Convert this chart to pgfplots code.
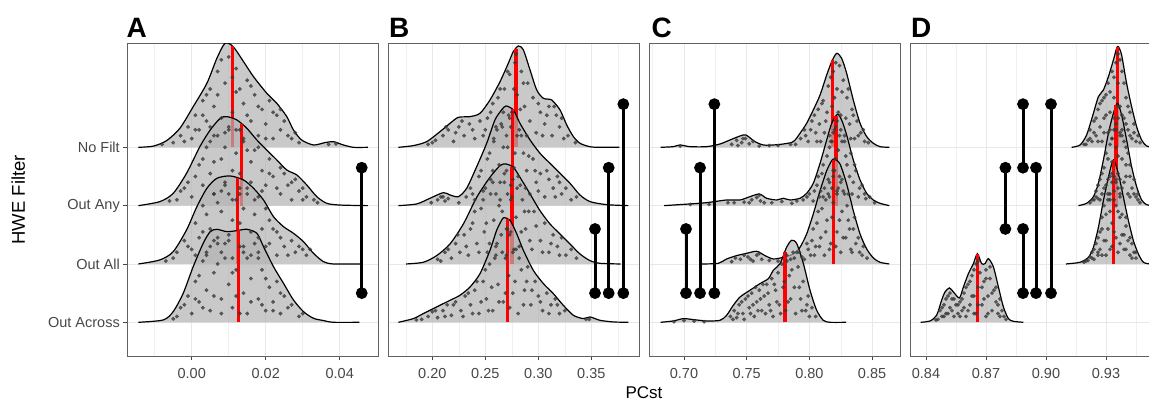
\documentclass[border=0pt]{standalone}
\usepackage{fontspec}
\setmainfont{Liberation Sans}
\usepackage{pgfplots}
\pgfplotsset{compat=1.18}
\usepackage{pgfplotstable}

% ---------- densities (x, height above baseline) ----------
\pgfplotstableread[row sep=\\]{x h\\ -0.0144 0\\ -0.0104 0.02\\ -0.0068 0.114\\ -0.0032 0.326\\ 0.0004 0.697\\ 0.0041 1.097\\ 0.0068 1.526\\ 0.0090 1.783\\ 0.0112 1.726\\ 0.0140 1.469\\ 0.0167 1.211\\ 0.0203 0.926\\ 0.0230 0.754\\ 0.0257 0.526\\ 0.0275 0.297\\ 0.0297 0.126\\ 0.0329 0.04\\ 0.0360 0.08\\ 0.0383 0.097\\ 0.0410 0.04\\ 0.0437 0\\ 0.0476 0\\}\dANF
\pgfplotstableread[row sep=\\]{x h\\ -0.0144 0\\ -0.0086 0.069\\ -0.0050 0.211\\ -0.0014 0.554\\ 0.0022 1.011\\ 0.0050 1.297\\ 0.0077 1.497\\ 0.0095 1.526\\ 0.0122 1.469\\ 0.0149 1.326\\ 0.0176 1.126\\ 0.0203 0.954\\ 0.0230 0.783\\ 0.0257 0.611\\ 0.0284 0.526\\ 0.0311 0.354\\ 0.0338 0.154\\ 0.0365 0.04\\ 0.0401 0.01\\ 0.0476 0\\}\dAAny
\pgfplotstableread[row sep=\\]{x h\\ -0.0144 0\\ -0.0086 0.069\\ -0.0050 0.211\\ -0.0014 0.583\\ 0.0014 0.983\\ 0.0041 1.297\\ 0.0068 1.469\\ 0.0104 1.509\\ 0.0140 1.44\\ 0.0167 1.297\\ 0.0194 1.097\\ 0.0221 0.811\\ 0.0248 0.64\\ 0.0275 0.526\\ 0.0302 0.383\\ 0.0329 0.183\\ 0.0356 0.04\\ 0.0383 0\\ 0.0460 0\\}\dAAll
\pgfplotstableread[row sep=\\]{x h\\ -0.0144 0\\ -0.0077 0.04\\ -0.0050 0.183\\ -0.0023 0.497\\ 0.0004 0.954\\ 0.0031 1.354\\ 0.0050 1.554\\ 0.0068 1.594\\ 0.0095 1.554\\ 0.0122 1.571\\ 0.0149 1.594\\ 0.0176 1.526\\ 0.0194 1.297\\ 0.0221 0.954\\ 0.0248 0.669\\ 0.0275 0.383\\ 0.0302 0.183\\ 0.0329 0.069\\ 0.0356 0.03\\ 0.0383 0\\ 0.0453 0\\}\dAAc

\pgfplotstableread[row sep=\\]{x h\\ 0.1680 0\\ 0.1821 0.029\\ 0.1947 0.097\\ 0.2073 0.269\\ 0.2167 0.411\\ 0.2246 0.514\\ 0.2356 0.526\\ 0.2450 0.583\\ 0.2544 0.811\\ 0.2639 1.126\\ 0.2717 1.44\\ 0.2764 1.64\\ 0.2812 1.737\\ 0.2859 1.669\\ 0.2922 1.326\\ 0.2985 0.983\\ 0.3048 0.84\\ 0.3126 0.811\\ 0.3205 0.64\\ 0.3268 0.383\\ 0.3331 0.183\\ 0.3393 0.069\\ 0.3488 0.01\\ 0.3582 0\\ 0.3764 0\\}\dBNF
\pgfplotstableread[row sep=\\]{x h\\ 0.1680 0\\ 0.1853 0.029\\ 0.1978 0.126\\ 0.2104 0.223\\ 0.2167 0.183\\ 0.2246 0.154\\ 0.2324 0.297\\ 0.2419 0.669\\ 0.2513 1.069\\ 0.2591 1.469\\ 0.2654 1.64\\ 0.2695 1.709\\ 0.2765 1.64\\ 0.2827 1.411\\ 0.2922 1.126\\ 0.3016 0.897\\ 0.3110 0.726\\ 0.3205 0.554\\ 0.3299 0.383\\ 0.3393 0.183\\ 0.3488 0.069\\ 0.3645 0.017\\ 0.3849 0\\}\dBAny
\pgfplotstableread[row sep=\\]{x h\\ 0.1752 0\\ 0.1915 0.029\\ 0.2041 0.143\\ 0.2167 0.343\\ 0.2293 0.686\\ 0.2419 1.143\\ 0.2544 1.486\\ 0.2639 1.686\\ 0.2695 1.714\\ 0.2765 1.657\\ 0.2827 1.486\\ 0.2922 1.2\\ 0.3016 0.914\\ 0.3110 0.686\\ 0.3205 0.514\\ 0.3299 0.343\\ 0.3393 0.171\\ 0.3488 0.057\\ 0.3582 0.011\\ 0.3777 0\\}\dBAll
\pgfplotstableread[row sep=\\]{x h\\ 0.1680 0\\ 0.1821 0.063\\ 0.1915 0.149\\ 0.2041 0.263\\ 0.2167 0.377\\ 0.2261 0.463\\ 0.2356 0.606\\ 0.2450 0.834\\ 0.2544 1.234\\ 0.2607 1.577\\ 0.2654 1.749\\ 0.2676 1.794\\ 0.2733 1.749\\ 0.2796 1.52\\ 0.2859 1.234\\ 0.2953 0.891\\ 0.3048 0.663\\ 0.3142 0.491\\ 0.3236 0.291\\ 0.3331 0.12\\ 0.3425 0.063\\ 0.3488 0.091\\ 0.3582 0.034\\ 0.3708 0.006\\ 0.3849 0\\}\dBAc

\pgfplotstableread[row sep=\\]{x h\\ 0.6814 0\\ 0.6915 0.011\\ 0.6968 0.04\\ 0.7048 0.011\\ 0.7181 0.011\\ 0.7287 0.057\\ 0.7367 0.126\\ 0.7447 0.194\\ 0.7494 0.211\\ 0.7566 0.097\\ 0.7633 0.04\\ 0.7712 0.04\\ 0.7792 0.057\\ 0.7872 0.097\\ 0.7925 0.24\\ 0.7978 0.411\\ 0.8031 0.64\\ 0.8085 0.897\\ 0.8138 1.24\\ 0.8178 1.469\\ 0.8217 1.611\\ 0.8257 1.526\\ 0.8297 1.269\\ 0.8350 0.811\\ 0.8404 0.411\\ 0.8457 0.183\\ 0.8510 0.069\\ 0.8563 0.011\\ 0.8637 0\\}\dCNF
\pgfplotstableread[row sep=\\]{x h\\ 0.6841 0\\ 0.7048 0.029\\ 0.7181 0.051\\ 0.7340 0.097\\ 0.7447 0.097\\ 0.7526 0.154\\ 0.7601 0.2\\ 0.7659 0.126\\ 0.7739 0.097\\ 0.7792 0.126\\ 0.7845 0.097\\ 0.7925 0.126\\ 0.7978 0.211\\ 0.8031 0.383\\ 0.8085 0.726\\ 0.8138 1.126\\ 0.8178 1.411\\ 0.8223 1.566\\ 0.8257 1.469\\ 0.8297 1.211\\ 0.8350 0.783\\ 0.8404 0.44\\ 0.8457 0.211\\ 0.8510 0.097\\ 0.8563 0.04\\ 0.8637 0\\}\dCAny
\pgfplotstableread[row sep=\\]{x h\\ 0.7141 0\\ 0.7274 0.011\\ 0.7340 0.086\\ 0.7420 0.143\\ 0.7500 0.183\\ 0.7580 0.217\\ 0.7646 0.143\\ 0.7712 0.086\\ 0.7792 0.114\\ 0.7872 0.171\\ 0.7925 0.286\\ 0.7978 0.514\\ 0.8031 0.857\\ 0.8085 1.257\\ 0.8138 1.6\\ 0.8178 1.771\\ 0.8199 1.8\\ 0.8244 1.714\\ 0.8297 1.371\\ 0.8350 0.914\\ 0.8404 0.514\\ 0.8457 0.257\\ 0.8510 0.103\\ 0.8563 0.029\\ 0.8637 0\\}\dCAll
\pgfplotstableread[row sep=\\]{x h\\ 0.6814 0\\ 0.6915 0.023\\ 0.6995 0.063\\ 0.7075 0.046\\ 0.7181 0.023\\ 0.7287 0.034\\ 0.7340 0.12\\ 0.7393 0.291\\ 0.7447 0.434\\ 0.7526 0.549\\ 0.7606 0.663\\ 0.7673 0.749\\ 0.7712 0.891\\ 0.7766 1.006\\ 0.7819 1.291\\ 0.7859 1.406\\ 0.7899 1.349\\ 0.7952 1.006\\ 0.8005 0.549\\ 0.8058 0.206\\ 0.8111 0.034\\ 0.8164 0\\ 0.8292 0\\}\dCAc

\pgfplotstableread[row sep=\\]{x h\\ 0.9128 0\\ 0.9170 0.04\\ 0.9203 0.211\\ 0.9237 0.583\\ 0.9262 0.869\\ 0.9287 0.983\\ 0.9312 1.211\\ 0.9337 1.497\\ 0.9353 1.697\\ 0.9362 1.726\\ 0.9378 1.583\\ 0.9403 1.097\\ 0.9428 0.697\\ 0.9453 0.354\\ 0.9478 0.126\\ 0.9503 0.023\\ 0.9537 0\\}\dDNF
\pgfplotstableread[row sep=\\]{x h\\ 0.9162 0\\ 0.9203 0.04\\ 0.9237 0.154\\ 0.9262 0.383\\ 0.9287 0.783\\ 0.9312 1.24\\ 0.9337 1.583\\ 0.9357 1.754\\ 0.9378 1.554\\ 0.9403 1.126\\ 0.9428 0.669\\ 0.9453 0.326\\ 0.9478 0.097\\ 0.9503 0.017\\ 0.9537 0\\}\dDAny
\pgfplotstableread[row sep=\\]{x h\\ 0.9100 0\\ 0.9170 0.029\\ 0.9212 0.114\\ 0.9237 0.286\\ 0.9262 0.629\\ 0.9287 1.086\\ 0.9312 1.486\\ 0.9337 1.783\\ 0.9362 1.543\\ 0.9387 1.143\\ 0.9412 0.743\\ 0.9437 0.4\\ 0.9462 0.171\\ 0.9487 0.029\\ 0.9520 0\\}\dDAll
\pgfplotstableread[row sep=\\]{x h\\ 0.8373 0\\ 0.8420 0.023\\ 0.8453 0.12\\ 0.8478 0.377\\ 0.8495 0.52\\ 0.8517 0.589\\ 0.8537 0.52\\ 0.8567 0.417\\ 0.8587 0.606\\ 0.8612 0.834\\ 0.8637 1.006\\ 0.8657 1.177\\ 0.8678 1.006\\ 0.8695 1.006\\ 0.8712 1.091\\ 0.8737 0.949\\ 0.8762 0.606\\ 0.8787 0.263\\ 0.8812 0.063\\ 0.8837 0.017\\ 0.8887 0\\}\dDAc

% ---------- jittered points (x, height above baseline) ----------
\pgfplotstableread[row sep=\\]{x h\\ -0.005 0.08\\ -0.003 0.2\\ -0.001 0.35\\ 0.000 0.15\\ 0.001 0.55\\ 0.002 0.3\\ 0.003 0.8\\ 0.004 0.45\\ 0.005 1.0\\ 0.006 0.2\\ 0.006 0.7\\ 0.007 1.3\\ 0.008 0.5\\ 0.009 1.1\\ 0.009 0.25\\ 0.010 1.55\\ 0.011 0.6\\ 0.012 0.95\\ 0.012 1.35\\ 0.013 0.3\\ 0.014 0.75\\ 0.015 1.15\\ 0.016 0.45\\ 0.017 0.9\\ 0.018 0.2\\ 0.019 0.65\\ 0.020 0.4\\ 0.021 0.8\\ 0.022 0.15\\ 0.023 0.55\\ 0.024 0.3\\ 0.025 0.45\\ 0.027 0.15\\ 0.028 0.25\\ 0.037 0.05\\ 0.039 0.06\\
-0.008 0.05\\ -0.002 0.1\\ 0.001 0.3\\ 0.003 0.55\\ 0.004 0.9\\ 0.005 0.35\\ 0.007 0.9\\ 0.008 1.5\\ 0.010 0.35\\ 0.011 1.2\\ 0.013 1.0\\ 0.014 0.15\\ 0.015 0.55\\ 0.016 1.05\\ 0.018 0.7\\ 0.020 0.15\\ 0.022 0.6\\ 0.024 0.65\\ 0.026 0.2\\ 0.029 0.08\\}\pANF
\pgfplotstableread[row sep=\\]{x h\\ -0.006 0.08\\ -0.003 0.25\\ -0.001 0.4\\ 0.000 0.15\\ 0.002 0.7\\ 0.003 0.35\\ 0.004 1.0\\ 0.005 0.55\\ 0.006 0.2\\ 0.007 1.2\\ 0.008 0.8\\ 0.009 0.4\\ 0.010 1.3\\ 0.011 0.1\\ 0.012 0.9\\ 0.013 0.55\\ 0.014 1.1\\ 0.015 0.3\\ 0.016 0.75\\ 0.017 0.95\\ 0.018 0.15\\ 0.019 0.6\\ 0.020 0.35\\ 0.021 0.8\\ 0.022 0.5\\ 0.024 0.2\\ 0.025 0.55\\ 0.026 0.35\\ 0.027 0.1\\ 0.028 0.45\\ 0.029 0.25\\ 0.030 0.3\\ 0.031 0.15\\ 0.033 0.1\\ 0.034 0.05\\
-0.004 0.1\\ -0.002 0.3\\ 0.001 0.5\\ 0.003 0.8\\ 0.005 1.1\\ 0.006 0.75\\ 0.008 0.25\\ 0.009 1.0\\ 0.011 0.6\\ 0.012 1.3\\ 0.013 0.2\\ 0.015 0.95\\ 0.016 0.4\\ 0.018 1.0\\ 0.019 0.25\\ 0.021 0.55\\ 0.023 0.3\\ 0.024 0.65\\ 0.027 0.4\\ 0.030 0.1\\}\pAAny
\pgfplotstableread[row sep=\\]{x h\\ -0.007 0.05\\ -0.004 0.2\\ -0.002 0.4\\ 0.000 0.25\\ 0.001 0.7\\ 0.002 0.45\\ 0.003 1.0\\ 0.004 0.15\\ 0.005 0.6\\ 0.006 1.2\\ 0.007 0.35\\ 0.008 0.9\\ 0.009 1.35\\ 0.010 0.5\\ 0.011 0.1\\ 0.012 1.1\\ 0.013 0.7\\ 0.014 0.3\\ 0.015 1.2\\ 0.016 0.55\\ 0.017 0.85\\ 0.018 0.2\\ 0.019 0.6\\ 0.020 0.95\\ 0.021 0.35\\ 0.022 0.6\\ 0.023 0.15\\ 0.024 0.45\\ 0.025 0.3\\ 0.027 0.4\\ 0.028 0.2\\ 0.029 0.3\\ 0.031 0.15\\ 0.032 0.25\\
-0.005 0.1\\ -0.001 0.3\\ 0.001 0.15\\ 0.003 0.55\\ 0.004 0.85\\ 0.006 0.4\\ 0.007 1.05\\ 0.008 0.2\\ 0.010 1.2\\ 0.011 0.75\\ 0.013 1.3\\ 0.014 0.95\\ 0.016 0.15\\ 0.017 1.1\\ 0.018 0.45\\ 0.020 0.3\\ 0.021 0.75\\ 0.023 0.55\\ 0.026 0.15\\ 0.030 0.25\\}\pAAll
\pgfplotstableread[row sep=\\]{x h\\ -0.005 0.06\\ -0.003 0.25\\ -0.001 0.45\\ 0.000 0.15\\ 0.001 0.7\\ 0.002 0.35\\ 0.003 1.05\\ 0.004 0.55\\ 0.005 1.3\\ 0.005 0.2\\ 0.006 0.85\\ 0.007 1.45\\ 0.008 0.4\\ 0.009 1.1\\ 0.010 0.65\\ 0.010 1.4\\ 0.011 0.25\\ 0.012 0.9\\ 0.013 1.3\\ 0.014 0.5\\ 0.015 1.1\\ 0.015 0.15\\ 0.016 0.75\\ 0.017 1.35\\ 0.018 0.4\\ 0.019 0.9\\ 0.020 0.2\\ 0.021 0.6\\ 0.022 0.35\\ 0.023 0.7\\ 0.024 0.15\\ 0.025 0.45\\ 0.026 0.25\\ 0.027 0.3\\ 0.029 0.1\\ 0.030 0.15\\
-0.004 0.1\\ -0.002 0.3\\ 0.001 0.4\\ 0.002 0.8\\ 0.003 0.25\\ 0.004 1.2\\ 0.006 0.45\\ 0.007 1.0\\ 0.008 0.15\\ 0.009 1.35\\ 0.011 0.85\\ 0.012 0.45\\ 0.013 0.15\\ 0.014 1.2\\ 0.016 0.35\\ 0.018 1.1\\ 0.019 0.3\\ 0.020 0.75\\ 0.022 0.2\\ 0.024 0.5\\}\pAAc

\pgfplotstableread[row sep=\\]{x h\\ 0.196 0.05\\ 0.203 0.12\\ 0.210 0.2\\ 0.215 0.3\\ 0.220 0.1\\ 0.225 0.35\\ 0.230 0.2\\ 0.235 0.4\\ 0.240 0.15\\ 0.245 0.45\\ 0.250 0.3\\ 0.255 0.6\\ 0.258 0.15\\ 0.262 0.85\\ 0.265 0.4\\ 0.268 1.0\\ 0.270 0.2\\ 0.273 1.25\\ 0.275 0.6\\ 0.278 1.45\\ 0.280 0.9\\ 0.282 0.3\\ 0.284 1.3\\ 0.287 0.7\\ 0.290 1.1\\ 0.292 0.45\\ 0.295 0.85\\ 0.298 0.25\\ 0.302 0.6\\ 0.306 0.4\\ 0.310 0.7\\ 0.313 0.2\\ 0.317 0.55\\ 0.320 0.35\\ 0.324 0.15\\ 0.328 0.2\\ 0.335 0.08\\
0.200 0.08\\ 0.213 0.35\\ 0.222 0.25\\ 0.228 0.45\\ 0.238 0.3\\ 0.248 0.2\\ 0.252 0.5\\ 0.257 0.75\\ 0.260 0.35\\ 0.264 1.0\\ 0.267 0.6\\ 0.271 1.3\\ 0.274 0.35\\ 0.277 1.0\\ 0.279 1.6\\ 0.283 0.65\\ 0.286 1.1\\ 0.289 0.2\\ 0.300 0.75\\ 0.304 0.2\\ 0.308 0.55\\ 0.315 0.7\\ 0.322 0.5\\}\pBNF
\pgfplotstableread[row sep=\\]{x h\\ 0.205 0.1\\ 0.208 0.15\\ 0.212 0.08\\ 0.215 0.12\\ 0.225 0.05\\ 0.232 0.15\\ 0.236 0.3\\ 0.240 0.1\\ 0.244 0.5\\ 0.248 0.25\\ 0.252 0.8\\ 0.255 0.45\\ 0.258 1.1\\ 0.260 0.2\\ 0.263 0.7\\ 0.266 1.35\\ 0.268 0.4\\ 0.271 1.0\\ 0.273 1.5\\ 0.275 0.15\\ 0.277 0.65\\ 0.280 1.2\\ 0.283 0.35\\ 0.286 0.9\\ 0.289 0.6\\ 0.292 0.2\\ 0.295 0.8\\ 0.298 0.4\\ 0.302 0.55\\ 0.306 0.15\\ 0.310 0.45\\ 0.314 0.3\\ 0.318 0.5\\ 0.322 0.2\\ 0.326 0.3\\ 0.331 0.1\\ 0.336 0.15\\
0.199 0.05\\ 0.210 0.15\\ 0.238 0.2\\ 0.246 0.6\\ 0.250 0.3\\ 0.254 0.9\\ 0.257 0.6\\ 0.261 1.3\\ 0.264 0.1\\ 0.267 1.0\\ 0.270 0.6\\ 0.272 1.55\\ 0.274 0.35\\ 0.278 0.9\\ 0.281 0.5\\ 0.284 1.2\\ 0.288 0.3\\ 0.291 0.85\\ 0.297 0.6\\ 0.300 0.25\\ 0.308 0.6\\ 0.316 0.15\\ 0.320 0.4\\}\pBAny
\pgfplotstableread[row sep=\\]{x h\\ 0.205 0.08\\ 0.212 0.2\\ 0.218 0.1\\ 0.222 0.35\\ 0.226 0.2\\ 0.230 0.5\\ 0.234 0.15\\ 0.238 0.7\\ 0.242 0.35\\ 0.246 0.95\\ 0.249 0.55\\ 0.252 0.2\\ 0.255 1.2\\ 0.258 0.75\\ 0.261 0.35\\ 0.264 1.4\\ 0.266 0.9\\ 0.269 0.1\\ 0.271 1.2\\ 0.273 0.5\\ 0.276 1.45\\ 0.279 0.8\\ 0.282 0.3\\ 0.285 1.1\\ 0.288 0.6\\ 0.291 0.9\\ 0.294 0.25\\ 0.298 0.65\\ 0.302 0.4\\ 0.306 0.7\\ 0.310 0.2\\ 0.314 0.5\\ 0.318 0.3\\ 0.322 0.45\\ 0.326 0.15\\ 0.331 0.25\\ 0.336 0.1\\
0.208 0.05\\ 0.215 0.25\\ 0.224 0.5\\ 0.232 0.3\\ 0.236 0.6\\ 0.240 0.9\\ 0.244 0.2\\ 0.248 1.1\\ 0.251 0.7\\ 0.254 0.35\\ 0.257 1.4\\ 0.260 0.15\\ 0.263 1.0\\ 0.268 1.55\\ 0.270 0.6\\ 0.274 1.1\\ 0.277 0.25\\ 0.280 1.3\\ 0.284 0.55\\ 0.287 0.9\\ 0.292 0.4\\ 0.296 0.9\\ 0.304 0.2\\ 0.312 0.35\\ 0.320 0.15\\}\pBAll
\pgfplotstableread[row sep=\\]{x h\\ 0.190 0.05\\ 0.196 0.1\\ 0.200 0.18\\ 0.205 0.08\\ 0.210 0.2\\ 0.214 0.3\\ 0.218 0.12\\ 0.222 0.35\\ 0.227 0.2\\ 0.231 0.45\\ 0.236 0.3\\ 0.240 0.55\\ 0.244 0.15\\ 0.248 0.7\\ 0.251 0.4\\ 0.254 1.0\\ 0.257 0.2\\ 0.260 1.3\\ 0.262 0.65\\ 0.265 1.5\\ 0.267 0.35\\ 0.270 1.15\\ 0.272 0.8\\ 0.274 1.55\\ 0.276 0.5\\ 0.279 1.25\\ 0.281 0.15\\ 0.284 0.9\\ 0.287 0.55\\ 0.290 0.95\\ 0.293 0.3\\ 0.297 0.7\\ 0.300 0.45\\ 0.304 0.2\\ 0.308 0.5\\ 0.312 0.3\\ 0.316 0.4\\ 0.320 0.15\\ 0.325 0.2\\ 0.345 0.05\\
0.185 0.04\\ 0.203 0.2\\ 0.212 0.1\\ 0.220 0.3\\ 0.229 0.1\\ 0.234 0.5\\ 0.238 0.15\\ 0.242 0.7\\ 0.246 0.35\\ 0.250 0.9\\ 0.253 0.2\\ 0.256 0.6\\ 0.259 1.1\\ 0.263 0.35\\ 0.266 1.2\\ 0.269 0.5\\ 0.271 1.6\\ 0.273 0.25\\ 0.276 1.2\\ 0.278 0.7\\ 0.282 1.1\\ 0.286 0.3\\ 0.289 0.7\\ 0.294 0.55\\ 0.302 0.35\\ 0.310 0.15\\ 0.318 0.3\\ 0.348 0.05\\}\pBAc

\pgfplotstableread[row sep=\\]{x h\\ 0.697 0.02\\ 0.738 0.05\\ 0.742 0.12\\ 0.746 0.08\\ 0.749 0.15\\ 0.752 0.06\\ 0.755 0.1\\ 0.775 0.03\\ 0.789 0.05\\ 0.793 0.15\\ 0.796 0.3\\ 0.799 0.1\\ 0.802 0.45\\ 0.805 0.25\\ 0.807 0.65\\ 0.809 0.1\\ 0.811 0.8\\ 0.813 0.45\\ 0.815 1.05\\ 0.816 0.2\\ 0.818 0.7\\ 0.819 1.3\\ 0.821 0.35\\ 0.822 1.0\\ 0.824 1.4\\ 0.825 0.55\\ 0.827 1.15\\ 0.828 0.2\\ 0.830 0.85\\ 0.832 0.4\\ 0.834 0.65\\ 0.836 0.15\\ 0.838 0.45\\ 0.841 0.25\\ 0.844 0.1\\ 0.847 0.08\\
0.743 0.03\\ 0.747 0.15\\ 0.760 0.02\\ 0.768 0.03\\ 0.785 0.05\\ 0.797 0.2\\ 0.801 0.3\\ 0.804 0.55\\ 0.806 0.1\\ 0.808 0.4\\ 0.810 0.75\\ 0.812 0.25\\ 0.814 0.6\\ 0.817 1.2\\ 0.818 0.1\\ 0.820 0.85\\ 0.821 1.45\\ 0.823 0.6\\ 0.824 0.2\\ 0.826 0.95\\ 0.829 0.5\\ 0.831 1.0\\ 0.833 0.15\\ 0.835 0.55\\ 0.839 0.2\\ 0.843 0.3\\}\pCNF
\pgfplotstableread[row sep=\\]{x h\\ 0.720 0.02\\ 0.735 0.05\\ 0.748 0.06\\ 0.754 0.1\\ 0.758 0.14\\ 0.761 0.08\\ 0.764 0.05\\ 0.778 0.07\\ 0.786 0.04\\ 0.795 0.1\\ 0.800 0.2\\ 0.803 0.08\\ 0.806 0.35\\ 0.808 0.15\\ 0.810 0.55\\ 0.812 0.3\\ 0.814 0.85\\ 0.816 0.15\\ 0.817 1.1\\ 0.819 0.6\\ 0.820 1.3\\ 0.822 0.25\\ 0.823 0.95\\ 0.825 1.3\\ 0.826 0.45\\ 0.828 1.1\\ 0.830 0.7\\ 0.831 0.2\\ 0.833 0.9\\ 0.835 0.4\\ 0.837 0.6\\ 0.839 0.15\\ 0.842 0.35\\ 0.845 0.12\\ 0.848 0.15\\ 0.852 0.05\\
0.705 0.02\\ 0.740 0.05\\ 0.752 0.05\\ 0.760 0.18\\ 0.770 0.05\\ 0.790 0.08\\ 0.798 0.15\\ 0.804 0.25\\ 0.807 0.5\\ 0.809 0.25\\ 0.811 0.7\\ 0.813 0.1\\ 0.815 0.45\\ 0.816 1.0\\ 0.818 0.3\\ 0.819 1.25\\ 0.821 0.8\\ 0.822 1.45\\ 0.824 0.5\\ 0.826 1.1\\ 0.827 0.25\\ 0.829 0.85\\ 0.832 0.5\\ 0.834 0.2\\ 0.836 0.7\\ 0.840 0.3\\ 0.844 0.2\\}\pCAny
\pgfplotstableread[row sep=\\]{x h\\ 0.738 0.04\\ 0.745 0.08\\ 0.751 0.12\\ 0.755 0.05\\ 0.758 0.15\\ 0.762 0.08\\ 0.768 0.06\\ 0.782 0.05\\ 0.788 0.1\\ 0.792 0.2\\ 0.796 0.08\\ 0.798 0.35\\ 0.801 0.15\\ 0.803 0.6\\ 0.805 0.3\\ 0.807 0.9\\ 0.809 0.45\\ 0.811 1.15\\ 0.812 0.15\\ 0.814 0.75\\ 0.816 1.4\\ 0.817 0.35\\ 0.819 1.05\\ 0.820 1.6\\ 0.822 0.55\\ 0.823 1.3\\ 0.825 0.2\\ 0.826 0.9\\ 0.828 1.2\\ 0.829 0.45\\ 0.831 0.75\\ 0.833 0.25\\ 0.835 0.6\\ 0.837 0.35\\ 0.840 0.2\\ 0.843 0.3\\ 0.846 0.1\\
0.741 0.1\\ 0.748 0.15\\ 0.753 0.08\\ 0.760 0.18\\ 0.775 0.05\\ 0.785 0.08\\ 0.794 0.12\\ 0.799 0.25\\ 0.802 0.4\\ 0.804 0.15\\ 0.806 0.7\\ 0.808 0.3\\ 0.810 0.95\\ 0.813 0.55\\ 0.815 1.2\\ 0.816 0.25\\ 0.818 0.8\\ 0.819 1.5\\ 0.821 0.3\\ 0.822 1.2\\ 0.824 0.75\\ 0.825 1.4\\ 0.827 0.45\\ 0.830 1.0\\ 0.832 0.6\\ 0.834 0.2\\ 0.836 0.8\\ 0.839 0.45\\ 0.842 0.15\\}\pCAll
\pgfplotstableread[row sep=\\]{x h\\ 0.700 0.03\\ 0.708 0.02\\ 0.737 0.1\\ 0.740 0.2\\ 0.742 0.08\\ 0.744 0.3\\ 0.747 0.15\\ 0.749 0.4\\ 0.752 0.25\\ 0.754 0.5\\ 0.756 0.1\\ 0.758 0.35\\ 0.760 0.55\\ 0.762 0.2\\ 0.764 0.45\\ 0.766 0.65\\ 0.768 0.3\\ 0.770 0.75\\ 0.771 0.1\\ 0.773 0.55\\ 0.775 0.85\\ 0.776 0.3\\ 0.778 1.0\\ 0.779 0.6\\ 0.781 0.2\\ 0.782 1.15\\ 0.784 0.8\\ 0.785 0.4\\ 0.787 1.2\\ 0.788 0.6\\ 0.789 0.15\\ 0.791 0.95\\ 0.793 0.4\\ 0.795 0.7\\ 0.797 0.2\\ 0.799 0.45\\ 0.802 0.25\\ 0.805 0.1\\
0.692 0.01\\ 0.716 0.01\\ 0.739 0.05\\ 0.743 0.15\\ 0.746 0.35\\ 0.748 0.05\\ 0.751 0.45\\ 0.753 0.15\\ 0.755 0.3\\ 0.757 0.6\\ 0.759 0.2\\ 0.761 0.4\\ 0.763 0.65\\ 0.765 0.15\\ 0.767 0.5\\ 0.769 0.2\\ 0.772 0.65\\ 0.774 0.35\\ 0.777 0.15\\ 0.780 0.7\\ 0.783 0.35\\ 0.786 0.9\\ 0.790 1.2\\ 0.792 0.6\\ 0.794 0.2\\ 0.798 0.3\\ 0.800 0.1\\}\pCAc

\pgfplotstableread[row sep=\\]{x h\\ 0.919 0.05\\ 0.921 0.12\\ 0.922 0.3\\ 0.923 0.1\\ 0.924 0.45\\ 0.925 0.2\\ 0.926 0.65\\ 0.927 0.35\\ 0.928 0.8\\ 0.928 0.1\\ 0.929 0.5\\ 0.930 0.9\\ 0.931 0.25\\ 0.931 1.1\\ 0.932 0.6\\ 0.933 1.3\\ 0.933 0.15\\ 0.934 0.85\\ 0.935 1.45\\ 0.935 0.4\\ 0.936 1.1\\ 0.937 0.7\\ 0.937 1.5\\ 0.938 0.2\\ 0.939 1.1\\ 0.939 0.5\\ 0.940 0.85\\ 0.941 0.3\\ 0.942 0.6\\ 0.943 0.15\\ 0.944 0.4\\ 0.946 0.2\\ 0.947 0.08\\
0.920 0.05\\ 0.922 0.15\\ 0.924 0.25\\ 0.925 0.5\\ 0.926 0.1\\ 0.927 0.75\\ 0.929 0.25\\ 0.929 0.85\\ 0.930 0.55\\ 0.932 0.95\\ 0.932 0.3\\ 0.934 1.2\\ 0.934 0.5\\ 0.936 0.7\\ 0.936 1.6\\ 0.937 0.25\\ 0.938 1.3\\ 0.938 0.55\\ 0.940 0.4\\ 0.941 0.7\\ 0.942 0.2\\ 0.944 0.25\\ 0.945 0.1\\}\pDNF
\pgfplotstableread[row sep=\\]{x h\\ 0.922 0.05\\ 0.924 0.1\\ 0.925 0.25\\ 0.926 0.12\\ 0.927 0.45\\ 0.928 0.2\\ 0.929 0.65\\ 0.930 0.35\\ 0.930 0.9\\ 0.931 0.1\\ 0.932 1.05\\ 0.932 0.5\\ 0.933 0.75\\ 0.934 1.3\\ 0.934 0.25\\ 0.935 1.0\\ 0.936 1.5\\ 0.936 0.55\\ 0.937 0.15\\ 0.937 1.2\\ 0.938 0.8\\ 0.939 1.1\\ 0.939 0.4\\ 0.940 0.7\\ 0.941 0.2\\ 0.941 0.9\\ 0.942 0.5\\ 0.943 0.3\\ 0.944 0.45\\ 0.945 0.15\\ 0.946 0.2\\ 0.947 0.05\\
0.923 0.1\\ 0.925 0.15\\ 0.926 0.35\\ 0.927 0.1\\ 0.928 0.55\\ 0.929 0.3\\ 0.931 0.8\\ 0.931 0.45\\ 0.932 0.2\\ 0.933 1.15\\ 0.933 0.55\\ 0.935 0.4\\ 0.935 1.3\\ 0.936 0.85\\ 0.937 0.45\\ 0.938 1.3\\ 0.938 0.3\\ 0.940 0.5\\ 0.940 1.0\\ 0.942 0.15\\ 0.942 0.7\\ 0.944 0.2\\ 0.946 0.1\\}\pDAny
\pgfplotstableread[row sep=\\]{x h\\ 0.919 0.03\\ 0.921 0.06\\ 0.922 0.12\\ 0.923 0.2\\ 0.924 0.08\\ 0.925 0.35\\ 0.926 0.15\\ 0.927 0.55\\ 0.927 0.25\\ 0.928 0.8\\ 0.929 0.4\\ 0.929 1.0\\ 0.930 0.15\\ 0.931 1.2\\ 0.931 0.6\\ 0.932 0.9\\ 0.933 1.4\\ 0.933 0.3\\ 0.934 1.1\\ 0.934 0.55\\ 0.935 1.45\\ 0.936 0.2\\ 0.936 0.9\\ 0.937 1.2\\ 0.938 0.5\\ 0.938 0.85\\ 0.939 0.25\\ 0.940 0.65\\ 0.941 0.4\\ 0.942 0.15\\ 0.943 0.35\\ 0.944 0.2\\ 0.945 0.1\\
0.920 0.05\\ 0.923 0.1\\ 0.924 0.25\\ 0.926 0.45\\ 0.926 0.2\\ 0.928 0.6\\ 0.928 0.15\\ 0.930 0.85\\ 0.930 0.4\\ 0.932 1.1\\ 0.932 0.25\\ 0.933 0.7\\ 0.934 1.5\\ 0.935 0.45\\ 0.935 1.0\\ 0.936 1.3\\ 0.937 0.35\\ 0.937 0.8\\ 0.939 0.5\\ 0.940 0.25\\ 0.940 0.8\\ 0.942 0.45\\ 0.943 0.1\\ 0.945 0.2\\}\pDAll
\pgfplotstableread[row sep=\\]{x h\\ 0.846 0.05\\ 0.847 0.2\\ 0.848 0.1\\ 0.849 0.3\\ 0.850 0.15\\ 0.851 0.45\\ 0.852 0.25\\ 0.853 0.4\\ 0.854 0.1\\ 0.855 0.3\\ 0.856 0.15\\ 0.857 0.35\\ 0.858 0.2\\ 0.859 0.5\\ 0.860 0.1\\ 0.861 0.65\\ 0.862 0.3\\ 0.863 0.8\\ 0.864 0.45\\ 0.865 1.0\\ 0.865 0.15\\ 0.866 0.6\\ 0.867 0.85\\ 0.868 0.3\\ 0.869 0.7\\ 0.870 0.1\\ 0.870 0.9\\ 0.871 0.45\\ 0.872 0.75\\ 0.873 0.2\\ 0.874 0.55\\ 0.875 0.35\\ 0.876 0.15\\ 0.877 0.4\\ 0.878 0.2\\ 0.880 0.05\\
0.845 0.04\\ 0.848 0.25\\ 0.849 0.1\\ 0.850 0.4\\ 0.851 0.15\\ 0.852 0.5\\ 0.853 0.2\\ 0.854 0.4\\ 0.856 0.3\\ 0.857 0.1\\ 0.858 0.4\\ 0.859 0.25\\ 0.860 0.6\\ 0.861 0.2\\ 0.862 0.7\\ 0.863 0.45\\ 0.864 0.9\\ 0.864 0.15\\ 0.866 1.05\\ 0.866 0.3\\ 0.868 0.6\\ 0.869 0.4\\ 0.870 0.75\\ 0.871 0.15\\ 0.872 0.95\\ 0.873 0.5\\ 0.875 0.6\\ 0.876 0.3\\ 0.877 0.1\\ 0.879 0.1\\}\pDAc

% base, density, points, median x, median top
\newcommand{\ridge}[5]{%
  \addplot[draw=none, fill=black!30, fill opacity=0.7, smooth, tension=0.45] table[x=x, y expr=\thisrow{h}+#1] {#2};
  \addplot[black, line width=1.2pt, smooth, tension=0.45] table[x=x, y expr=\thisrow{h}+#1] {#2};
  \addplot[only marks, mark=*, mark size=1.85pt, color=black!78, mark options={solid, draw=black!78, fill=black!78, line width=0.2pt, opacity=0.78}] table[x=x, y expr=\thisrow{h}+#1] {#3};
  \addplot[red, line width=3.4pt] coordinates {(#4,#1) (#4,#5)};
}
\newcommand{\bracket}[3]{%
  \addplot[black, line width=3pt, mark=*, mark size=4.3pt] coordinates {(#1,#2) (#1,#3)};
}

\pgfplotsset{
  ridgeaxis/.style={
    scale only axis, height=312.7pt,
    ymin=0.422, ymax=5.783, ytick={1,2,3,4},
    xmajorgrids, ymajorgrids, xminorgrids,
    major grid style={black!9, line width=0.9pt},
    minor grid style={black!6, line width=0.5pt},
    minor tick length=0pt,
    scaled x ticks=false,
    axis line style={black!62, line width=0.9pt},
    tick align=outside, major tick length=4pt,
    tick style={black!72, line width=0.8pt},
    xtick pos=bottom, ytick pos=left,
    tick label style={font=\fontsize{14.5}{16}\selectfont, text=black!72},
    xticklabel style={yshift=-4.5pt},
    clip=true,
  },
  noy/.style={yticklabels={}, ytick style={draw=none}},
}

\begin{document}
\begin{tikzpicture}
% ---------------- A ----------------
\begin{axis}[ridgeaxis, at={(127.3pt,-356pt)}, anchor=south west, width=251pt,
  xmin=-0.01741, xmax=0.05043, xtick={0,0.02,0.04}, xticklabels={0.00,0.02,0.04},
  minor xtick={-0.01,0.01,0.03},
  yticklabels={Out Across,Out All,Out Any,No Filt}]
\ridge{4}{\dANF}{\pANF}{0.01097}{5.74}
\ridge{3}{\dAAny}{\pAAny}{0.01351}{4.40}
\ridge{2}{\dAAll}{\pAAll}{0.01234}{3.47}
\ridge{1}{\dAAc}{\pAAc}{0.0127}{2.575}
\bracket{0.04595}{3.65}{1.5}
\end{axis}
% ---------------- B ----------------
\begin{axis}[ridgeaxis, noy, at={(388.3pt,-356pt)}, anchor=south west, width=251pt,
  xmin=0.15849, xmax=0.39528, xtick={0.2,0.25,0.3,0.35}, xticklabels={0.20,0.25,0.30,0.35},
  minor xtick={0.175,0.225,0.275,0.325,0.375}]
\ridge{4}{\dBNF}{\pBNF}{0.2790}{5.69}
\ridge{3}{\dBAny}{\pBAny}{0.2758}{4.65}
\ridge{2}{\dBAll}{\pBAll}{0.2752}{3.67}
\ridge{1}{\dBAc}{\pBAc}{0.2708}{2.77}
\bracket{0.3535}{2.6}{1.5}
\bracket{0.3664}{3.65}{1.5}
\bracket{0.3802}{4.74}{1.5}
\end{axis}
% ---------------- C ----------------
\begin{axis}[ridgeaxis, noy, at={(649.3pt,-356pt)}, anchor=south west, width=250.7pt,
  xmin=0.67233, xmax=0.87225, xtick={0.7,0.75,0.8,0.85}, xticklabels={0.70,0.75,0.80,0.85},
  minor xtick={0.675,0.725,0.775,0.825}]
\ridge{4}{\dCNF}{\pCNF}{0.8186}{5.50}
\ridge{3}{\dCAny}{\pCAny}{0.8212}{4.53}
\ridge{2}{\dCAll}{\pCAll}{0.8191}{3.79}
\ridge{1}{\dCAc}{\pCAc}{0.7805}{2.20}
\bracket{0.7016}{2.6}{1.5}
\bracket{0.7128}{3.65}{1.5}
\bracket{0.7242}{4.74}{1.5}
\end{axis}
% ---------------- D ----------------
\begin{axis}[ridgeaxis, noy, at={(910pt,-356pt)}, anchor=south west, width=246pt,
  xmin=0.832, xmax=0.955, xtick={0.84,0.87,0.90,0.93}, xticklabels={0.84,0.87,0.90,0.93},
  minor xtick={0.855,0.885,0.915,0.945}]
\ridge{4}{\dDNF}{\pDNF}{0.9357}{5.72}
\ridge{3}{\dDAny}{\pDAny}{0.9350}{4.73}
\ridge{2}{\dDAll}{\pDAll}{0.9337}{3.78}
\ridge{1}{\dDAc}{\pDAc}{0.8657}{2.177}
\bracket{0.8797}{3.65}{2.6}
\bracket{0.8885}{4.74}{3.65}
\bracket{0.8885}{2.6}{1.5}
\bracket{0.8950}{3.65}{1.5}
\bracket{0.9025}{4.74}{1.5}
\end{axis}
% ---------------- titles ----------------
\node[anchor=base west, font=\fontsize{28}{30}\selectfont\bfseries, inner sep=0pt] at (126.5pt,-37pt) {A};
\node[anchor=base west, font=\fontsize{28}{30}\selectfont\bfseries, inner sep=0pt] at (389pt,-37pt) {B};
\node[anchor=base west, font=\fontsize{28}{30}\selectfont\bfseries, inner sep=0pt] at (651.5pt,-37pt) {C};
\node[anchor=base west, font=\fontsize{28}{30}\selectfont\bfseries, inner sep=0pt] at (911pt,-37pt) {D};
\node[rotate=90, font=\fontsize{18.5}{20}\selectfont] at (18.3pt,-199.7pt) {HWE Filter};
\node[anchor=base, font=\fontsize{17}{19}\selectfont, inner sep=0pt] at (644pt,-398.3pt) {PCst};
\pgfresetboundingbox
\path[use as bounding box] (0pt,0pt) rectangle (1149pt,-400pt);
\end{tikzpicture}
\end{document}
